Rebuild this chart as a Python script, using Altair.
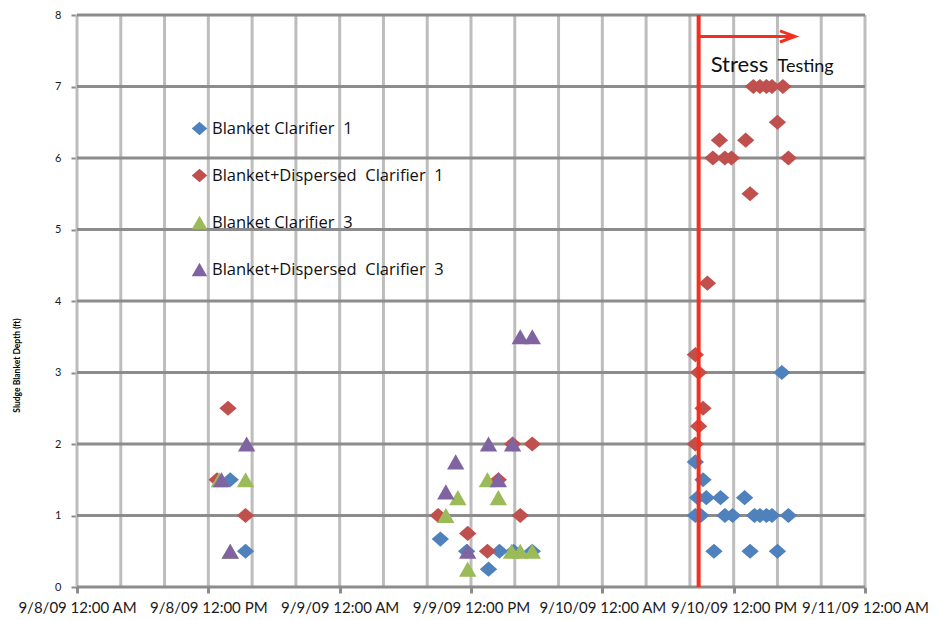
import altair as alt
import pandas as pd

# ---- data (hours since 9/8/09 12:00 AM, sludge blanket depth in ft) ----
NB = "\u00a0"
series_names = ["Blanket Clarifier" + NB + " 1", "Blanket+Dispersed" + NB + " Clarifier" + NB + " 1",
                "Blanket Clarifier" + NB + " 3", "Blanket+Dispersed" + NB + " Clarifier" + NB + " 3"]
series_colors = ["#4F81BD", "#C0504D", "#9BBB59", "#8064A2"]
DIAMOND = "M-1,0L0,-0.88L1,0L0,0.88Z"
TRIANGLE = "M0,-0.88L1,0.88L-1,0.88Z"
series_shapes = [DIAMOND, DIAMOND, TRIANGLE, TRIANGLE]

bc1_hours = [14.0, 15.4, 33.2, 35.6, 37.6, 38.6, 39.9, 41.6,
             56.5, 57.2, 56.7, 57.5, 58.8, 61.0, 56.5, 57.0, 59.2, 59.9,
             61.9, 62.4, 63.0, 63.5, 65.0, 64.4, 58.2, 61.5, 64.0]
bc1_depth = [1.5, 0.5, 0.67, 0.5, 0.25, 0.5, 0.5, 0.5,
             1.75, 1.5, 1.25, 1.25, 1.25, 1.25, 1.0, 1.0, 1.0, 1.0,
             1.0, 1.0, 1.0, 1.0, 1.0, 3.0, 0.5, 0.5, 0.5]

bdc1_hours = [13.8, 12.8, 15.4, 33.0, 35.7, 37.5, 38.5, 39.8, 41.6, 40.5,
              56.5, 56.8, 57.2, 56.8, 56.5, 57.6, 58.1, 59.2, 59.8, 65.0,
              58.7, 61.1, 61.5, 64.0, 61.8, 62.4, 63.0, 63.5, 64.5]
bdc1_depth = [2.5, 1.5, 1.0, 1.0, 0.75, 0.5, 1.5, 2.0, 2.0, 1.0,
              3.25, 3.0, 2.5, 2.25, 2.0, 4.25, 6.0, 6.0, 6.0, 6.0,
              6.25, 6.25, 5.5, 6.5, 7.0, 7.0, 7.0, 7.0, 7.0]

bc3_hours = [13.0, 15.4, 14.0, 33.7, 34.8, 35.7, 37.5, 38.5, 39.7, 40.5, 41.6]
bc3_depth = [1.5, 1.5, 0.5, 1.0, 1.25, 0.25, 1.5, 1.25, 0.5, 0.5, 0.5]

bdc3_hours = [13.2, 15.5, 14.0, 33.7, 34.6, 35.7, 37.6, 38.5, 39.8, 40.5, 41.6]
bdc3_depth = [1.5, 2.0, 0.5, 1.33, 1.75, 0.5, 2.0, 1.5, 2.0, 3.5, 3.5]

tick_hours = [0, 12, 24, 36, 48, 60, 72]
tick_labels = ["9/8/09 12:00 AM", "9/8/09 12:00 PM", "9/9/09 12:00 AM",
               "9/9/09 12:00 PM", "9/10/09 12:00 AM", "9/10/09 12:00 PM",
               "9/11/09 12:00 AM"]
vgrid_hours = list(range(0, 73, 4))
hgrid_depths = list(range(0, 9))

stress_start = 56.8
arrow_end = 65.6
arrow_level = 7.7
annot_words = ["Stress", "Testing"]
annot_hours = [57.9, 64.0]
annot_level = 7.2

# ---- build tables ----
rows = []
for i, (hs, ds) in enumerate(zip([bc1_hours, bdc1_hours, bc3_hours, bdc3_hours],
                                 [bc1_depth, bdc1_depth, bc3_depth, bdc3_depth])):
    for h, d in zip(hs, ds):
        rows.append({"series": series_names[i], "hours": h, "depth": d, "order": i})
df = pd.DataFrame(rows)

W, H = 788, 572
FONT = "Lato"
LFONT = "Open Sans"

xscale = alt.Scale(domain=[0, 72], nice=False, zero=False)
yscale = alt.Scale(domain=[0, 8], nice=False, zero=False)

label_js = "[" + ",".join("'" + s + "'" for s in tick_labels) + "]"

vgrid = alt.Chart(pd.DataFrame({"h": vgrid_hours})).mark_rule(
    color="#BDBDBD", strokeWidth=3
).encode(
    x=alt.X("h:Q", scale=xscale, axis=alt.Axis(
        values=tick_hours, title=None, labelExpr=label_js + "[round(datum.value/12)]",
        labelFont=FONT, labelFontSize=15, labelColor="#1a1a1a", labelPadding=7,
        labelOverlap=False, labelBound=False, labelFlush=False,
        domain=False, grid=False, tickSize=6, tickWidth=3, tickColor="#8C8C8C")),
    y=alt.value(0), y2=alt.value(H),
)

hgrid = alt.Chart(pd.DataFrame({"d": hgrid_depths})).mark_rule(
    color="#8C8C8C", strokeWidth=3
).encode(
    y=alt.Y("d:Q", scale=yscale, axis=alt.Axis(
        values=hgrid_depths, format="d", title="Sludge Blanket Depth (ft)",
        titleFont=FONT, titleFontSize=8.5, titleFontWeight="bold", titleColor="#000",
        titleX=-56, titleY=350, titleAngle=-90,
        labelFont=FONT, labelFontSize=11, labelColor="#1a1a1a", labelPadding=10,
        domain=False, grid=False, tickSize=6, tickWidth=2, tickColor="#8C8C8C")),
    x=alt.value(0), x2=alt.value(W),
)

leg = alt.Legend(title=None, orient="none", legendX=114, legendY=105,
                 labelFont=LFONT, labelFontSize=16.5, labelColor="#111",
                 symbolSize=240, rowPadding=26, symbolOpacity=1,
                 labelOffset=4, labelLimit=400)

points = alt.Chart(df).mark_point(filled=True, opacity=1, size=300).encode(
    x=alt.X("hours:Q", scale=xscale),
    y=alt.Y("depth:Q", scale=yscale),
    color=alt.Color("series:N", scale=alt.Scale(domain=series_names, range=series_colors),
                    legend=leg),
    shape=alt.Shape("series:N", scale=alt.Scale(domain=series_names, range=series_shapes),
                    legend=leg),
    order=alt.Order("order:Q"),
)

stress_line = alt.Chart(pd.DataFrame({"h": [stress_start]})).mark_rule(
    color="#F3301F", strokeWidth=4
).encode(x=alt.X("h:Q", scale=xscale), y=alt.value(0), y2=alt.value(H))

arrow = alt.Chart(pd.DataFrame({"h": [stress_start], "h2": [arrow_end], "y": [arrow_level]})).mark_rule(
    color="#F3301F", strokeWidth=3
).encode(x=alt.X("h:Q", scale=xscale), x2="h2:Q", y=alt.Y("y:Q", scale=yscale))

arrow_head = alt.Chart(pd.DataFrame({"h": [arrow_end], "y": [arrow_level]})).mark_point(
    shape="M-1,-0.37L0,0L-1,0.37", size=900, filled=False, stroke="#F3301F",
    strokeWidth=3, opacity=1
).encode(x=alt.X("h:Q", scale=xscale), y=alt.Y("y:Q", scale=yscale))

annot_df = pd.DataFrame({"h": annot_hours, "y": [annot_level] * 2, "t": annot_words,
                         "fs": [22, 18]})
annot = alt.Chart(annot_df).mark_text(
    align="left", baseline="alphabetic", font=FONT, color="#111"
).encode(x=alt.X("h:Q", scale=xscale), y=alt.Y("y:Q", scale=yscale), text="t:N",
         size=alt.Size("fs:Q", scale=None, legend=None))

chart = alt.layer(vgrid, hgrid, points, stress_line, arrow, arrow_head, annot).resolve_scale(
    size="independent"
).properties(
    width=W, height=H,
    autosize=alt.AutoSizeParams(type="none"),
    padding={"left": 69, "top": 7, "right": 67, "bottom": 33},
).configure_view(stroke=None).configure(background="white")

chart.save("out.html", embed_options={"renderer": "svg", "actions": False})
